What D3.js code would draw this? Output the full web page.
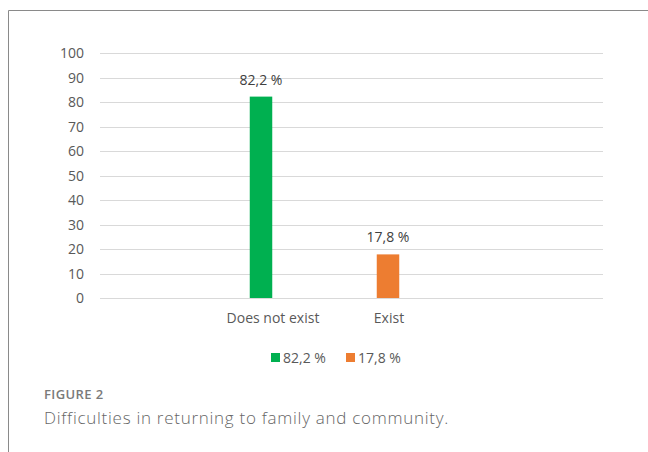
<!DOCTYPE html>
<html><head><meta charset="utf-8">
<script src="https://cdn.jsdelivr.net/npm/d3@7"></script>
<style>html,body{margin:0;padding:0;background:#fff;}svg{display:block;}</style>
</head><body>
<svg id="chart" width="648" height="452"></svg>
<script>
const categories = ["Does not exist", "Exist"];
const seriesNames = ["82,2 %", "17,8 %"];
const values = [82.2, 17.8];
const valueLabels = ["82,2 %", "17,8 %"];
const colors = ["#00b050", "#ed7d31"];
const yTicks = [0,10,20,30,40,50,60,70,80,90,100];
const figureLabel = "FIGURE 2";
const caption = "Difficulties in returning to family and community.";

const svg = d3.select("#chart");
const font = "'Open Sans', sans-serif";

// frame
svg.append("line").attr("x1",8.5).attr("x2",648).attr("y1",10.5).attr("y2",10.5).attr("stroke","#8a8a8a").attr("stroke-width",1);
svg.append("line").attr("x1",8.5).attr("x2",8.5).attr("y1",10.5).attr("y2",452).attr("stroke","#8a8a8a").attr("stroke-width",1);

const plotL = 100, plotR = 603;
const y = d3.scaleLinear().domain([0,100]).range([298,53]);
const x = d3.scaleBand().domain(categories).range([205,449]);
const barW = 22.5;
const shift = [-5, 0];

// gridlines
svg.append("g").selectAll("line").data(yTicks).join("line")
  .attr("x1",plotL).attr("x2",plotR)
  .attr("y1",d=>Math.round(y(d))+0.5).attr("y2",d=>Math.round(y(d))+0.5)
  .attr("stroke","#d9d9d9").attr("stroke-width",1.2);

// y axis labels
const yAxis = d3.axisLeft(y).tickValues(yTicks).tickSize(0).tickPadding(0);
const ya = svg.append("g").attr("transform","translate(84,0)").call(yAxis);
ya.select(".domain").remove();
ya.selectAll("text").attr("font-family",font).attr("font-size","14px").attr("fill","#595959").attr("dy","0.35em");

// bars
svg.append("g").selectAll("rect").data(categories).join("rect")
  .attr("x",(d,i)=>x(d)+x.bandwidth()/2 - barW/2 + shift[i])
  .attr("y",(d,i)=>y(values[i]))
  .attr("width",barW)
  .attr("height",(d,i)=>y(0)-y(values[i]))
  .attr("fill",(d,i)=>colors[i]);

// value labels
svg.append("g").selectAll("text").data(categories).join("text")
  .attr("x",(d,i)=>x(d)+x.bandwidth()/2 + shift[i])
  .attr("y",(d,i)=>y(values[i]) - 12)
  .attr("text-anchor","middle")
  .attr("font-family",font).attr("font-size","14px").attr("fill","#404040")
  .text((d,i)=>valueLabels[i]);

// category labels
const xAxis = d3.axisBottom(x).tickSize(0).tickPadding(0);
const xa = svg.append("g").attr("transform","translate(0,313)").call(xAxis);
xa.select(".domain").remove();
xa.selectAll("text").attr("font-family",font).attr("font-size","14px").attr("fill","#595959").attr("dy","0.71em")
  .attr("dx",(d,i)=> i===0 ? 7 : 1);

// legend
const leg = svg.append("g");
const legX = [271, 346];
seriesNames.forEach((s,i)=>{
  leg.append("rect").attr("x",legX[i]).attr("y",353).attr("width",9).attr("height",9).attr("fill",colors[i]);
  leg.append("text").attr("x",legX[i]+12).attr("y",362.5).attr("font-family",font).attr("font-size","14px").attr("fill","#595959").text(s);
});

// caption
svg.append("text").attr("x",44).attr("y",399).attr("font-family",font).attr("font-size","13px").attr("font-weight",600).attr("letter-spacing","0.4px").attr("fill","#7a7a7a").text(figureLabel);
svg.append("text").attr("x",44).attr("y",424).attr("font-family",font).attr("font-size","17px").attr("font-weight",300).attr("letter-spacing","0.72px").attr("fill","#666").text(caption);
</script>
</body></html>
